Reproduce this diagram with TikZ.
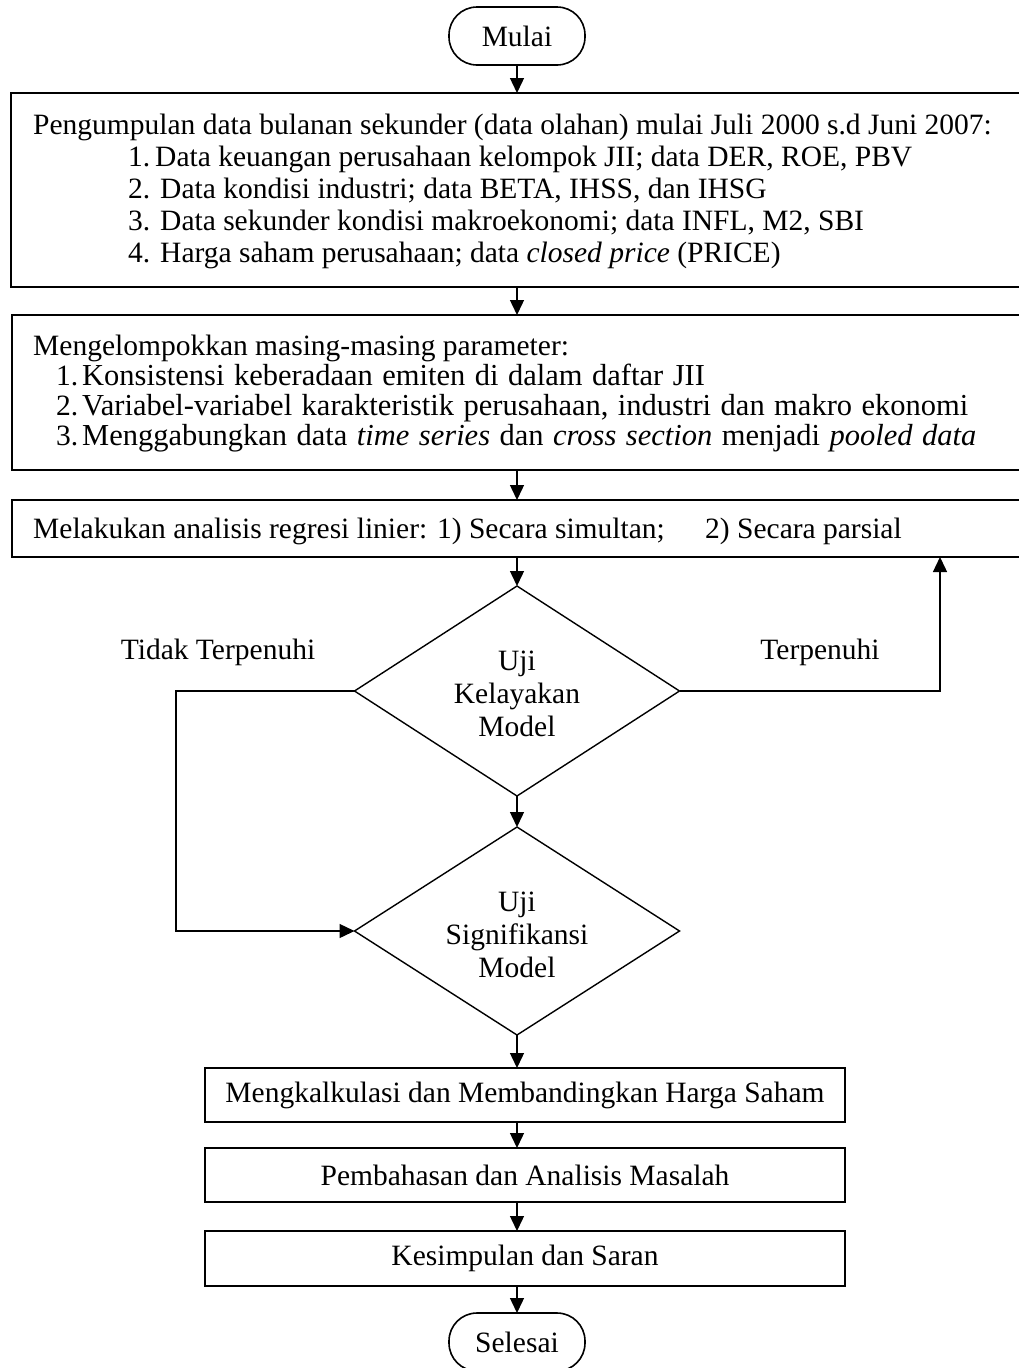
\documentclass[tikz,border=0pt]{standalone}
\usepackage{fontspec}
\setmainfont{Liberation Serif}
\usetikzlibrary{shapes.geometric,arrows.meta}
\begin{document}
\begin{tikzpicture}[x=1pt,y=-1pt,
  every node/.style={font=\fontsize{29.5}{33}\selectfont},
  boxnode/.style={draw, line width=1.6pt, inner sep=0pt, outer sep=0pt},
  termnode/.style={draw, line width=1.6pt, rounded corners=28pt, inner sep=0pt, outer sep=0pt, minimum width=136pt, minimum height=58pt},
  decnode/.style={draw, shape=diamond, line width=1.4pt, inner sep=0pt, outer sep=0pt},
  txt/.style={anchor=base west, inner sep=0pt},
  widetxt/.style={txt, font=\fontsize{30.5}{33}\selectfont, execute at begin node={\spaceskip=9.5pt plus 0pt minus 0pt\relax}},
  ctxt/.style={anchor=base, inner sep=0pt, align=center},
  arr/.style={line width=1.4pt, -{Triangle[length=15pt,width=14pt]}},
]
\useasboundingbox (0,0) rectangle (1018,1368);

% terminals
\node[termnode] (mulai) at (517,36) {Mulai};
\node[termnode] (selesai) at (517,1342) {Selesai};

% box 1
\node[boxnode, minimum width=1014pt, minimum height=194pt] (b1) at (518,190) {};
\node[txt] (t1) at (33,134) {Pengumpulan data bulanan sekunder (data olahan) mulai Juli 2000 s.d Juni 2007:};
\node[txt] (n11) at (128,166) {1.};
\node[txt] (t11) at (155,166) {Data keuangan perusahaan kelompok JII; data DER, ROE, PBV};
\node[txt] (n12) at (128,198) {2.};
\node[txt] (t12) at (160,198) {Data kondisi industri; data BETA, IHSS, dan IHSG};
\node[txt] (n13) at (128,230) {3.};
\node[txt] (t13) at (160,230) {Data sekunder kondisi makroekonomi; data INFL, M2, SBI};
\node[txt] (n14) at (128,262) {4.};
\node[txt] (t14) at (160,262) {Harga saham perusahaan; data \textit{closed price} (PRICE)};

% box 2
\node[boxnode, minimum width=1013pt, minimum height=155pt] (b2) at (518.5,392.5) {};
\node[txt] (t2) at (33,355) {Mengelompokkan masing-masing parameter:};
\node[txt] (n21) at (56,385) {1.};
\node[widetxt] (t21) at (82,385) {Konsistensi keberadaan emiten di dalam daftar JII};
\node[txt] (n22) at (56,415) {2.};
\node[widetxt] (t22) at (82,415) {Variabel-variabel karakteristik perusahaan, industri dan makro ekonomi};
\node[txt] (n23) at (56,445) {3.};
\node[widetxt] (t23) at (82,445) {Menggabungkan data \textit{time series} dan \textit{cross section} menjadi \textit{pooled data}};

% box 3
\node[boxnode, minimum width=1013pt, minimum height=57pt] (b3) at (518.5,528.5) {};
\node[txt] (t3a) at (33,538) {Melakukan analisis regresi linier: 1) Secara simultan;};
\node[txt] (t3b) at (705,538) {2) Secara parsial};

% decisions
\node[decnode, minimum width=325pt, minimum height=210pt] (d1) at (517,691) {};
\node[ctxt] (d1t) at (517,736) {Uji\\Kelayakan\\Model};
\node[decnode, minimum width=325pt, minimum height=208pt] (d2) at (517,931) {};
\node[ctxt] (d2t) at (517,977) {Uji\\Signifikansi\\Model};

\node[ctxt] (lno) at (218,659) {Tidak Terpenuhi};
\node[ctxt] (lyes) at (820,659) {Terpenuhi};

% lower boxes
\node[boxnode, minimum width=640pt, minimum height=54pt] (b4) at (525,1095) {Mengkalkulasi dan Membandingkan Harga Saham};
\node[boxnode, minimum width=640pt, minimum height=54pt] (b5) at (525,1175) {Pembahasan dan Analisis Masalah};
\node[boxnode, minimum width=640pt, minimum height=55pt] (b6) at (525,1258.5) {Kesimpulan dan Saran};

% connectors
\draw[arr] (mulai.south) -- (b1.north -| mulai.south);
\draw[arr] (b1.south -| mulai.south) -- (b2.north -| mulai.south);
\draw[arr] (b2.south -| mulai.south) -- (b3.north -| mulai.south);
\draw[arr] (b3.south -| d1.north) -- (d1.north);
\draw[arr] (d1.south) -- (d2.north);
\draw[arr] (d2.south) -- (b4.north -| d2.south);
\draw[arr] (b4.south -| d2.south) -- (b5.north -| d2.south);
\draw[arr] (b5.south -| d2.south) -- (b6.north -| d2.south);
\draw[arr] (b6.south -| d2.south) -- (selesai.north);

\coordinate (lc) at (176,691);
\coordinate (rc) at (940,691);
\draw[arr] (d1.west) -- (lc) |- (d2.west);
\draw[arr] (d1.east) -- (rc) -- (rc |- b3.south);
\end{tikzpicture}
\end{document}
